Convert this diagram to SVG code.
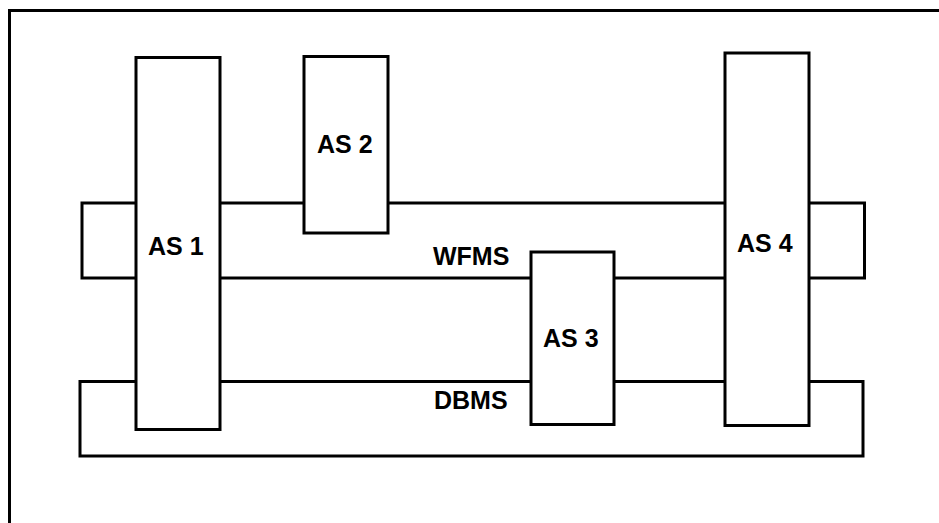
<svg xmlns="http://www.w3.org/2000/svg" width="939" height="523" viewBox="0 0 939 523">
<style>
.box{fill:#fff;stroke:#000;stroke-width:3}
.lbl{font-family:"Liberation Sans",Arial,sans-serif;font-weight:bold;font-size:25px;fill:#000}
</style>
<rect width="939" height="523" fill="#fff"/>
<path d="M9.5 523 V10.5 H939" fill="none" stroke="#000" stroke-width="3"/>
<g id="wfms">
<rect class="box" x="82" y="203" width="782.5" height="75"/>
<text class="lbl" x="433" y="265">WFMS</text>
</g>
<g id="dbms">
<rect class="box" x="80" y="381.5" width="783" height="74.5"/>
<text class="lbl" x="434" y="409">DBMS</text>
</g>
<g id="as1">
<rect class="box" x="136" y="57.5" width="84" height="372"/>
<text class="lbl" x="148" y="255">AS 1</text>
</g>
<g id="as2">
<rect class="box" x="304" y="56.5" width="84" height="176.5"/>
<text class="lbl" x="317" y="152.5">AS 2</text>
</g>
<g id="as3">
<rect class="box" x="531" y="252" width="83" height="172.5"/>
<text class="lbl" x="543" y="347">AS 3</text>
</g>
<g id="as4">
<rect class="box" x="725" y="53" width="84" height="372.5"/>
<text class="lbl" x="737" y="251.5">AS 4</text>
</g>
<g id="connectors"></g>
</svg>
